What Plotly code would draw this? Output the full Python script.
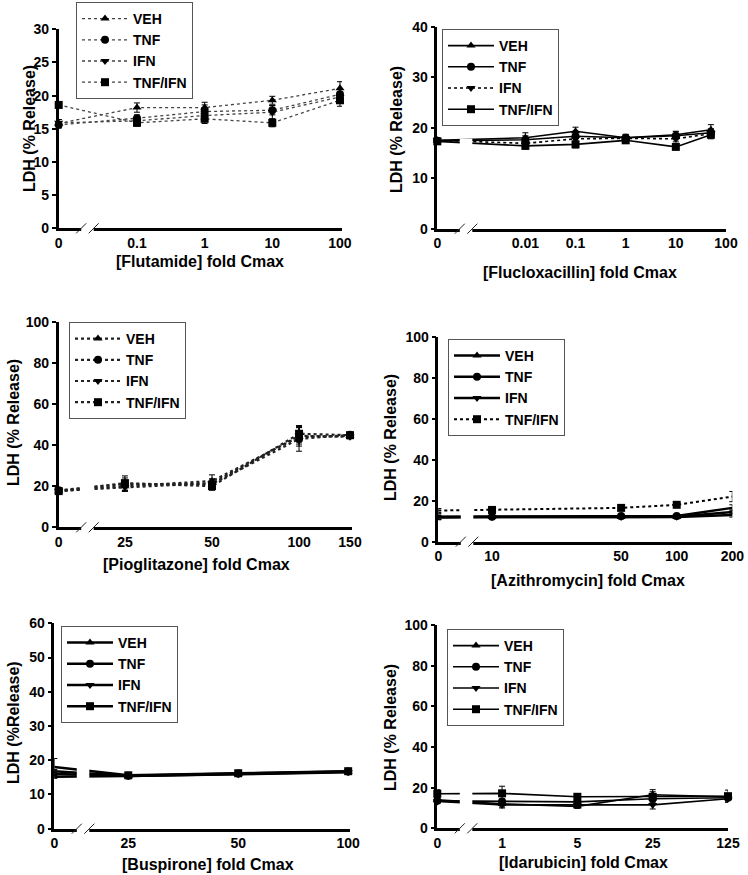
import math
import plotly.graph_objects as go

# ---------------- DATA ----------------
series_names = ["VEH", "TNF", "IFN", "TNF/IFN"]

flut_conc = [0, 0.1, 1, 10, 100]
flut_labels = ["0", "0.1", "1", "10", "100"]
flut_veh = [15.8, 18.2, 18.2, 19.3, 21.1]
flut_tnf = [15.6, 16.6, 17.6, 17.8, 20.2]
flut_ifn = [15.9, 16.2, 17.0, 17.5, 19.8]
flut_tnfifn = [18.6, 15.9, 16.5, 15.9, 19.3]
flut_veh_err = [0.6, 0.7, 0.8, 0.6, 1.0]
flut_tnf_err = [0.5, 0.5, 1.0, 0.7, 0.8]
flut_ifn_err = [0.5, 0.6, 0.6, 1.0, 0.8]
flut_tnfifn_err = [0.4, 0.5, 0.7, 0.6, 0.9]

fluc_conc = [0, 0.01, 0.1, 1, 10, 50]
fluc_ticks = [0, 0.01, 0.1, 1, 10, 100]
fluc_labels = ["0", "0.01", "0.1", "1", "10", "100"]
fluc_veh = [17.5, 18.0, 19.3, 18.0, 18.6, 19.6]
fluc_tnf = [17.4, 17.6, 18.3, 18.0, 18.4, 19.0]
fluc_ifn = [17.5, 16.9, 17.8, 17.9, 17.8, 18.8]
fluc_tnfifn = [17.3, 16.4, 16.7, 17.5, 16.2, 18.6]
fluc_veh_err = [0.5, 1.0, 0.8, 0.6, 0.7, 1.0]
fluc_tnf_err = [0.4, 0.8, 1.0, 0.7, 0.8, 0.8]
fluc_ifn_err = [0.4, 0.7, 0.6, 0.5, 0.6, 0.7]
fluc_tnfifn_err = [0.4, 0.6, 0.7, 0.5, 0.5, 0.8]

piog_conc = [0, 25, 50, 100, 150]
piog_labels = ["0", "25", "50", "100", "150"]
piog_veh = [17.5, 20.0, 22.5, 44.0, 44.5]
piog_tnf = [18.0, 21.0, 21.0, 43.0, 45.0]
piog_ifn = [17.8, 19.5, 21.5, 44.5, 44.0]
piog_tnfifn = [17.6, 21.5, 20.0, 45.5, 44.8]
piog_veh_err = [1.0, 2.5, 3.0, 4.5, 1.0]
piog_tnf_err = [1.0, 3.0, 2.5, 6.0, 1.0]
piog_ifn_err = [1.0, 2.0, 2.0, 4.0, 1.0]
piog_tnfifn_err = [1.2, 3.5, 2.0, 4.0, 1.5]

azit_conc = [0, 10, 50, 100, 200]
azit_labels = ["0", "10", "50", "100", "200"]
azit_veh = [12.0, 12.0, 12.0, 12.0, 13.0]
azit_tnf = [12.2, 12.2, 12.5, 12.5, 16.5]
azit_ifn = [11.8, 12.0, 12.0, 12.2, 14.5]
azit_tnfifn = [15.2, 15.5, 16.5, 18.0, 22.0]
azit_veh_err = [1.0, 0.8, 0.8, 0.8, 1.0]
azit_tnf_err = [1.5, 1.0, 1.0, 0.8, 1.5]
azit_ifn_err = [1.0, 0.8, 0.8, 0.8, 1.0]
azit_tnfifn_err = [1.0, 1.0, 1.0, 1.0, 2.5]

busp_conc = [0, 25, 50, 100]
busp_labels = ["0", "25", "50", "100"]
busp_veh = [15.2, 15.4, 16.0, 16.6]
busp_tnf = [16.0, 15.5, 16.1, 16.7]
busp_ifn = [16.8, 15.4, 15.9, 16.5]
busp_tnfifn = [18.0, 15.6, 16.2, 16.8]
busp_veh_err = [0.5, 0.5, 0.5, 0.5]
busp_tnf_err = [0.6, 0.5, 0.5, 0.5]
busp_ifn_err = [0.5, 0.4, 0.4, 0.4]
busp_tnfifn_err = [2.5, 0.6, 0.6, 0.6]

idar_conc = [0, 1, 5, 25, 125]
idar_labels = ["0", "1", "5", "25", "125"]
idar_veh = [14.0, 12.0, 10.8, 16.5, 15.5]
idar_tnf = [13.5, 13.2, 13.0, 14.5, 15.0]
idar_ifn = [13.2, 11.5, 11.5, 11.5, 14.5]
idar_tnfifn = [17.0, 17.2, 15.5, 15.5, 15.8]
idar_veh_err = [1.5, 1.5, 1.0, 2.5, 1.5]
idar_tnf_err = [1.0, 1.2, 1.0, 2.0, 1.5]
idar_ifn_err = [1.0, 1.5, 1.5, 2.0, 1.5]
idar_tnfifn_err = [2.0, 3.5, 1.5, 2.5, 3.0]

# ---------------- LAYOUT ----------------
W, H = 748, 875
FONT = "Liberation Sans, Arial, sans-serif"


def fx(p):
    return p / W


def fy(p):
    return 1 - p / H


panels = [
    dict(conc=flut_conc, ticks=flut_conc, labels=flut_labels,
         vals=[flut_veh, flut_tnf, flut_ifn, flut_tnfifn],
         errs=[flut_veh_err, flut_tnf_err, flut_ifn_err, flut_tnfifn_err],
         xt="[Flutamide] fold Cmax", yt="LDH (% Release)",
         box=(58.7, 342, 29.3, 228.3), ymax=30, dtick=5, gap=1.157, right=2.03,
         dash=["dot"] * 4, lw=[1.3] * 4, lc="#444", broken=False,
         leg=(76, 2), xtpos=(200, 261), ytpos=(29, 129)),
    dict(conc=fluc_conc, ticks=fluc_ticks, labels=fluc_labels,
         vals=[fluc_veh, fluc_tnf, fluc_ifn, fluc_tnfifn],
         errs=[fluc_veh_err, fluc_tnf_err, fluc_ifn_err, fluc_tnfifn_err],
         xt="[Flucloxacillin] fold Cmax", yt="LDH (% Release)",
         box=(437.3, 726, 26.7, 228.7), ymax=40, dtick=10, gap=1.756, right=2.0,
         dash=["solid", "solid", "dot", "solid"], lw=[1.6] * 4, lc="black", broken=True,
         leg=(442, 29), xtpos=(580, 272), ytpos=(396, 130)),
    dict(conc=piog_conc, ticks=piog_conc, labels=piog_labels,
         vals=[piog_veh, piog_tnf, piog_ifn, piog_tnfifn],
         errs=[piog_veh_err, piog_tnf_err, piog_ifn_err, piog_tnfifn_err],
         xt="[Pioglitazone] fold Cmax", yt="LDH (% Release)",
         box=(58.7, 351.7, 321.7, 527.3), ymax=100, dtick=20, gap=0.229, right=2.182,
         dash=["dot"] * 4, lw=[2.2] * 4, lc="#222", broken=True,
         leg=(69, 322), xtpos=(196, 564), ytpos=(13, 423)),
    dict(conc=azit_conc, ticks=azit_conc, labels=azit_labels,
         vals=[azit_veh, azit_tnf, azit_ifn, azit_tnfifn],
         errs=[azit_veh_err, azit_tnf_err, azit_ifn_err, azit_tnfifn_err],
         xt="[Azithromycin] fold Cmax", yt="LDH (% Release)",
         box=(438.3, 732.3, 336.7, 541.7), ymax=100, dtick=20, gap=0.291, right=2.301,
         dash=["solid", "solid", "solid", "dot"], lw=[2.5, 2.5, 2.5, 2], lc="black", broken=True,
         leg=(448, 339), xtpos=(588, 580), ytpos=(390, 438)),
    dict(conc=busp_conc, ticks=busp_conc, labels=busp_labels,
         vals=[busp_veh, busp_tnf, busp_ifn, busp_tnfifn],
         errs=[busp_veh_err, busp_tnf_err, busp_ifn_err, busp_tnfifn_err],
         xt="[Buspirone] fold Cmax", yt="LDH (%Release)",
         box=(54.3, 350, 623.3, 828.7), ymax=60, dtick=10, gap=0.2025, right=2.005,
         dash=["solid"] * 4, lw=[2.5] * 4, lc="black", broken=True,
         leg=(61, 626), xtpos=(208, 864), ytpos=(13, 723)),
    dict(conc=idar_conc, ticks=idar_conc, labels=idar_labels,
         vals=[idar_veh, idar_tnf, idar_ifn, idar_tnfifn],
         errs=[idar_veh_err, idar_tnf_err, idar_ifn_err, idar_tnfifn_err],
         xt="[Idarubicin] fold Cmax", yt="LDH (% Release)",
         box=(437.3, 728, 625, 828.3), ymax=100, dtick=20, gap=0.601, right=2.097,
         dash=["solid"] * 4, lw=[1.6] * 4, lc="black", broken=True,
         leg=(447, 629), xtpos=(583, 862), ytpos=(390, 728)),
]

symbols = ["triangle-up", "circle", "triangle-down", "square"]

fig = go.Figure()
layout = dict(
    template="none",
    width=W, height=H, margin=dict(l=0, r=0, t=0, b=0, pad=0, autoexpand=False),
    paper_bgcolor="white", plot_bgcolor="white", showlegend=True,
    font=dict(family=FONT, color="black"),
)
shapes = []
annotations = []

for i, p in enumerate(panels):
    n = i + 1
    xa = "x" if n == 1 else f"x{n}"
    ya = "y" if n == 1 else f"y{n}"
    leg = "legend" if n == 1 else f"legend{n}"
    first_nz = min(c for c in p["conc"] if c > 0)
    left = math.log10(first_nz) - p["gap"]
    zero_pos = 10 ** left
    xs = [zero_pos if c == 0 else c for c in p["conc"]]
    tickvals = [zero_pos if c == 0 else c for c in p["ticks"]]
    for k in range(4):
        fig.add_trace(go.Scatter(
            x=xs, y=p["vals"][k], name=series_names[k], mode="lines+markers",
            xaxis=xa, yaxis=ya, legend=leg, cliponaxis=False,
            line=dict(color=p["lc"], width=p["lw"][k], dash=p["dash"][k]),
            marker=dict(symbol=symbols[k], size=8, color="black"),
            error_y=dict(type="data", array=p["errs"][k], color="black",
                         thickness=1, width=3),
        ))
    x0, x1, y0, y1 = p["box"]
    layout["xaxis" if n == 1 else f"xaxis{n}"] = dict(
        type="log", range=[left, p["right"]], domain=[fx(x0), fx(x1)],
        anchor=ya, tickmode="array", tickvals=tickvals, ticktext=p["labels"],
        showline=True, linecolor="black", linewidth=2.5, ticks="",
        showgrid=False, zeroline=False, automargin=False,
        tickfont=dict(family=FONT, size=14, weight="bold", color="black"),
    )
    layout["yaxis" if n == 1 else f"yaxis{n}"] = dict(
        range=[0, p["ymax"]], dtick=p["dtick"], tick0=0, domain=[fy(y1), fy(y0)],
        anchor=xa, showline=True, linecolor="black", linewidth=2.5,
        ticks="outside", ticklen=4, tickwidth=1.5, tickcolor="black",
        showgrid=False, zeroline=False, automargin=False,
        tickfont=dict(family=FONT, size=14, weight="bold", color="black"),
    )
    layout[leg] = dict(
        x=fx(p["leg"][0]), y=fy(p["leg"][1]), xanchor="left", yanchor="top",
        xref="paper", yref="paper", itemwidth=46,
        bgcolor="white", bordercolor="#555", borderwidth=1,
        font=dict(family=FONT, size=14, weight="bold", color="black"),
        traceorder="normal",
    )
    # axis break
    b1 = x0 + 22.5
    b2 = x0 + 35
    if p["broken"]:
        shapes.append(dict(type="rect", xref="paper", yref="paper", layer="above",
                           x0=fx(b1), x1=fx(b2), y0=fy(y1 + 4), y1=fy(y1 - 90),
                           fillcolor="white", line=dict(width=0)))
    else:
        shapes.append(dict(type="rect", xref="paper", yref="paper", layer="above",
                           x0=fx(b1), x1=fx(b2), y0=fy(y1 + 4), y1=fy(y1 - 4),
                           fillcolor="white", line=dict(width=0)))
    for c in (b1, b2):
        shapes.append(dict(type="line", xref="paper", yref="paper", layer="above",
                           x0=fx(c - 5), y0=fy(y1 + 5), x1=fx(c + 5), y1=fy(y1 - 5),
                           line=dict(color="#222", width=1)))
    annotations.append(dict(text=p["xt"], xref="paper", yref="paper",
                            x=fx(p["xtpos"][0]), y=fy(p["xtpos"][1]),
                            xanchor="center", yanchor="middle", showarrow=False,
                            font=dict(family=FONT, size=16, weight="bold", color="black")))
    annotations.append(dict(text=p["yt"], xref="paper", yref="paper",
                            x=fx(p["ytpos"][0]), y=fy(p["ytpos"][1]), textangle=-90,
                            xanchor="center", yanchor="middle", showarrow=False,
                            font=dict(family=FONT, size=16, weight="bold", color="black")))

layout["shapes"] = shapes
layout["annotations"] = annotations
fig.update_layout(**layout)
fig.write_html(
    "out.html",
    config={"displayModeBar": False},
    post_script="document.body.style.margin='0';document.body.style.overflow='hidden';",
)
